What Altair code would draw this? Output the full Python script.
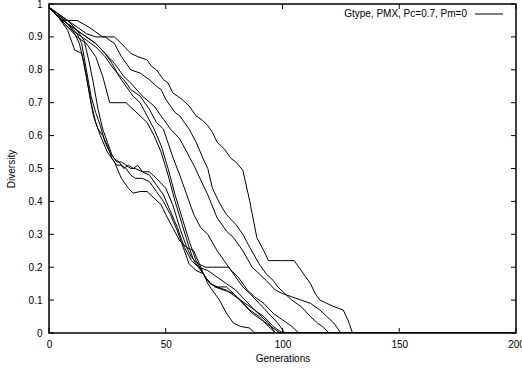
import altair as alt
import pandas as pd

# ---- data (generation, diversity) ----
run_R = [(0,.99),(3,.97),(7,.95),(12,.95),(17,.93),(21,.91),(23,.90),(28,.90),(31,.88),(35,.85),(38,.84),(42,.83),(44,.81),(46,.80),(49,.77),(51,.76),(53,.73),(55,.72),(57,.71),(60,.69),(63,.66),(66,.645),(68,.63),(70,.61),(72,.58),(75,.56),(78,.53),(80,.52),(83,.495),(86,.40),(89,.29),(92,.25),(94,.22),(100,.22),(105,.22),(108,.19),(110,.17),(112,.15),(114,.12),(116,.10),(119,.09),(122,.08),(124,.075),(126,.07),(128,.04),(130,0),(200,0)]
run_U2 = [(0,.99),(4,.97),(8,.95),(12,.93),(16,.91),(20,.90),(24,.90),(28,.88),(31,.84),(35,.80),(39,.79),(43,.77),(46,.75),(48,.74),(50,.71),(52,.69),(54,.67),(56,.66),(58,.64),(60,.62),(63,.58),(66,.53),(68,.50),(70,.44),(73,.395),(76,.36),(80,.33),(83,.30),(86,.26),(90,.21),(93,.18),(96,.16),(98,.14),(101,.12),(104,.10),(108,.08),(112,.05),(115,.03),(117,.02),(120,0),(200,0)]
run_U3 = [(0,.99),(4,.96),(8,.94),(12,.92),(16,.90),(20,.88),(24,.85),(28,.82),(32,.78),(35,.76),(40,.72),(45,.69),(49,.65),(52,.62),(56,.59),(59,.55),(62,.51),(65,.465),(68,.42),(72,.35),(76,.31),(79,.29),(83,.25),(87,.20),(90,.18),(93,.16),(97,.13),(100,.12),(104,.11),(108,.10),(112,.09),(116,.07),(119,.05),(122,.03),(125,0),(200,0)]
run_U4 = [(0,.99),(4,.96),(8,.93),(12,.91),(16,.89),(20,.87),(24,.84),(28,.80),(32,.77),(35,.74),(39,.72),(43,.68),(46,.64),(49,.62),(53,.535),(56,.48),(59,.42),(62,.36),(65,.32),(68,.30),(72,.25),(75,.22),(78,.19),(81,.17),(85,.13),(88,.11),(92,.09),(96,.06),(100,.04),(104,.02),(107,0),(200,0)]
run_M1 = [(0,.99),(4,.96),(8,.93),(12,.90),(16,.88),(20,.84),(23,.78),(26,.70),(30,.70),(33,.70),(36,.68),(39,.66),(42,.64),(45,.60),(48,.55),(51,.48),(54,.40),(57,.33),(60,.26),(62,.22),(65,.19),(68,.16),(71,.14),(75,.13),(79,.12),(82,.10),(86,.07),(90,.05),(94,.02),(97,0),(200,0)]
run_M2 = [(0,.99),(4,.96),(8,.94),(12,.92),(16,.90),(20,.88),(24,.85),(27,.82),(30,.78),(33,.75),(36,.72),(39,.70),(42,.66),(45,.62),(48,.57),(51,.50),(54,.42),(57,.35),(60,.28),(63,.22),(66,.18),(69,.15),(72,.14),(76,.14),(79,.12),(83,.09),(87,.06),(91,.04),(95,.02),(99,0),(200,0)]
run_S1 = [(0,.99),(4,.96),(8,.92),(11,.86),(14,.85),(16,.78),(18,.70),(20,.64),(22,.60),(25,.55),(28,.52),(31,.47),(34,.44),(36,.425),(39,.43),(42,.43),(45,.41),(48,.39),(50,.36),(53,.32),(56,.28),(59,.26),(62,.25),(65,.20),(68,.15),(71,.12),(73,.10),(76,.06),(79,.03),(82,.02),(86,.015),(88,0),(200,0)]
run_S2 = [(0,.99),(4,.96),(8,.94),(11,.91),(13,.88),(15,.82),(17,.74),(19,.66),(21,.62),(23,.60),(25,.57),(27,.53),(29,.51),(31,.51),(33,.50),(35,.48),(37,.47),(40,.47),(43,.46),(46,.43),(49,.40),(52,.36),(55,.31),(58,.25),(60,.21),(63,.19),(66,.18),(69,.15),(72,.14),(76,.13),(80,.11),(84,.09),(88,.07),(91,.05),(94,.03),(97,0),(200,0)]
run_S3 = [(0,.99),(4,.97),(8,.94),(12,.91),(14,.88),(16,.80),(18,.72),(20,.67),(22,.63),(24,.58),(26,.55),(28,.53),(30,.52),(32,.50),(34,.51),(36,.50),(38,.51),(40,.49),(43,.48),(46,.45),(49,.42),(52,.37),(55,.32),(58,.26),(61,.22),(64,.20),(68,.19),(72,.17),(76,.15),(80,.13),(84,.10),(88,.07),(92,.05),(96,.02),(100,0),(200,0)]
run_S4 = [(0,.99),(4,.97),(8,.95),(12,.92),(15,.89),(17,.83),(19,.76),(21,.68),(23,.62),(25,.58),(27,.54),(29,.52),(31,.52),(33,.51),(35,.50),(37,.50),(40,.49),(43,.49),(46,.47),(50,.44),(53,.39),(56,.32),(59,.26),(61,.23),(64,.21),(67,.20),(72,.20),(77,.20),(80,.17),(83,.14),(86,.12),(90,.09),(94,.06),(98,.03),(101,0),(200,0)]

runs = {"R": run_R, "U2": run_U2, "U3": run_U3, "U4": run_U4, "M1": run_M1,
        "M2": run_M2, "S1": run_S1, "S2": run_S2, "S3": run_S3, "S4": run_S4}

x_ticks = [0, 50, 100, 150, 200]
y_ticks = [0, 0.1, 0.2, 0.3, 0.4, 0.5, 0.6, 0.7, 0.8, 0.9, 1]
legend_label = "Gtype, PMX, Pc=0.7, Pm=0"

rows = []
for name, pts in runs.items():
    for i, (g, d) in enumerate(pts):
        rows.append({"run": name, "order": i, "gen": g, "div": d})
df = pd.DataFrame(rows)

W, H = 467, 329
FONT = "Liberation Sans"

xscale = alt.Scale(domain=[0, 200], nice=False, zero=False)
yscale = alt.Scale(domain=[0, 1], nice=False)

x_axis = alt.Axis(values=x_ticks, title="Generations", grid=False, domain=False,
                  ticks=False, labelPadding=6, labelFontSize=10, labelFont=FONT,
                  labelColor="black", titleFont=FONT, titleFontSize=10,
                  titleFontWeight="normal", titleColor="black", titlePadding=4,
                  labelFlush=False, labelOverlap=False)
y_axis = alt.Axis(values=y_ticks, format="~g", title="Diversity", grid=False,
                  domain=False, ticks=False, labelPadding=7, labelFontSize=10,
                  labelFont=FONT, labelColor="black", titleFont=FONT,
                  titleFontSize=10, titleFontWeight="normal", titleColor="black",
                  titlePadding=12, labelFlush=False, labelOverlap=False)

lines = alt.Chart(df).mark_line(color="black", strokeWidth=1, clip=True).encode(
    x=alt.X("gen:Q", scale=xscale, axis=x_axis),
    y=alt.Y("div:Q", scale=yscale, axis=y_axis),
    detail="run:N",
    order="order:Q",
)

xt = pd.DataFrame({"t": x_ticks})
yt = pd.DataFrame({"t": y_ticks})
tick_style = dict(color="black", strokeWidth=1)
xb = alt.Chart(xt).mark_rule(**tick_style).encode(x=alt.X("t:Q", scale=xscale, axis=x_axis), y=alt.value(H), y2=alt.value(H - 5))
xtop = alt.Chart(xt).mark_rule(**tick_style).encode(x=alt.X("t:Q", scale=xscale, axis=x_axis), y=alt.value(0), y2=alt.value(5))
yl = alt.Chart(yt).mark_rule(**tick_style).encode(y=alt.Y("t:Q", scale=yscale, axis=y_axis), x=alt.value(0), x2=alt.value(5))
yr = alt.Chart(yt).mark_rule(**tick_style).encode(y=alt.Y("t:Q", scale=yscale, axis=y_axis), x=alt.value(W), x2=alt.value(W - 5))

leg_df = pd.DataFrame({"label": [legend_label]})
leg_text = alt.Chart(leg_df).mark_text(align="right", baseline="middle", font=FONT,
                                       fontSize=10, color="black").encode(
    text="label:N", x=alt.value(418), y=alt.value(10))
leg_line = alt.Chart(leg_df).mark_rule(color="black", strokeWidth=1).encode(
    x=alt.value(426), x2=alt.value(454), y=alt.value(10))

chart = alt.layer(lines, xb, xtop, yl, yr, leg_text, leg_line).properties(
    width=W, height=H,
    padding={"left": 49, "top": 4, "right": 6, "bottom": 38},
    autosize="none",
    background="white",
).configure_view(stroke="black", strokeWidth=1.5)

chart.save("out.html", embed_options={"renderer": "svg", "actions": False})
